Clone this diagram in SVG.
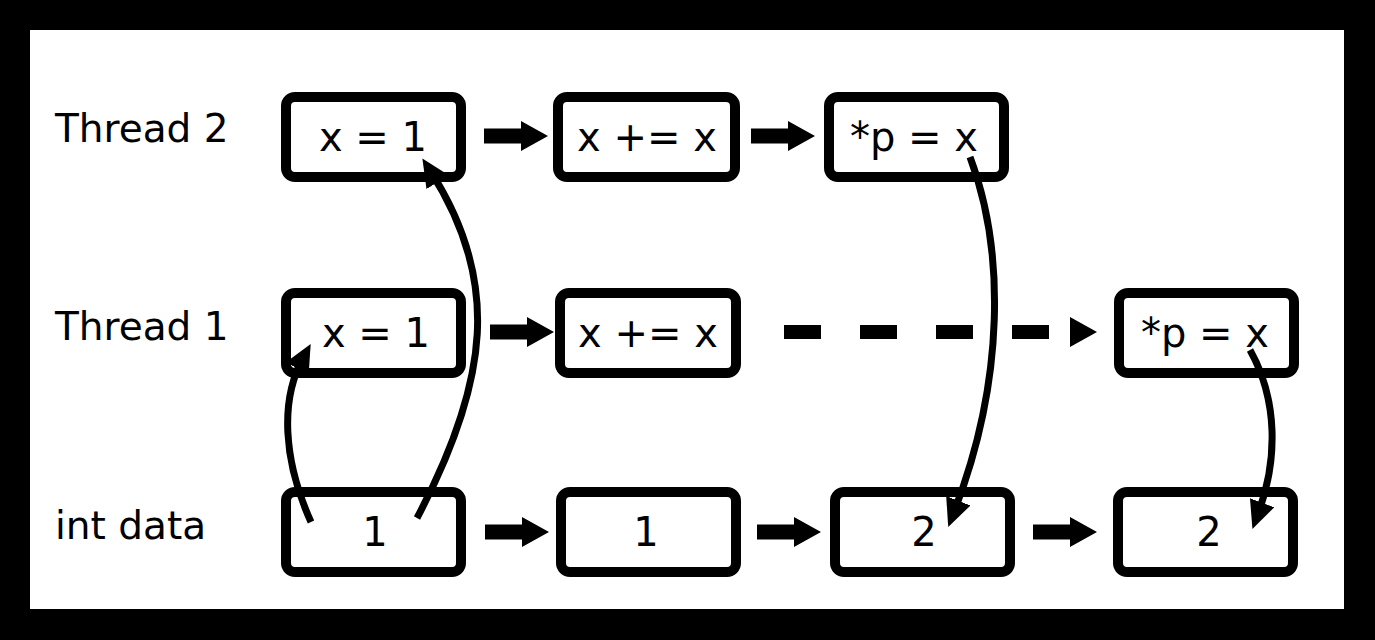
<svg xmlns="http://www.w3.org/2000/svg" xmlns:xlink="http://www.w3.org/1999/xlink" width="1375" height="640" viewBox="0 0 1375 640">
  <style>
    .box { fill: #fff; stroke: #000; stroke-width: 10; }
    .lbl { font-family: "DejaVu Sans", Verdana, sans-serif; font-size: 39px; fill: #000; }
    .txt { font-family: "DejaVu Sans", Verdana, sans-serif; font-size: 40px; fill: #000; text-anchor: middle; }
    .curve { fill: none; stroke: #000; stroke-width: 7; marker-end: url(#thinHead); }
    .dash { stroke: #000; stroke-width: 14; stroke-dasharray: 37 39; fill: none; }
  </style>
  <defs>
    <marker id="thinHead" viewBox="0 0 28 26" refX="12" refY="13" markerWidth="28" markerHeight="26" markerUnits="userSpaceOnUse" orient="auto">
      <path d="M0,0 L28,13 L0,26 Z" fill="#000"/>
    </marker>
    <path id="bigArrow" d="M0,-7.5 H37 V-15 L64,0 L37,15 V7.5 H0 Z" fill="#000"/>
  </defs>

  <rect x="0" y="0" width="1375" height="640" fill="#000"/>
  <rect x="30" y="30" width="1314" height="579" fill="#fff"/>

  <g id="labels">
    <text class="lbl" x="55" y="142">Thread 2</text>
    <text class="lbl" x="55" y="340">Thread 1</text>
    <text class="lbl" x="55" y="539">int data</text>
  </g>

  <g id="t2-n1"><rect class="box" x="286" y="97" width="175" height="80" rx="9"/><text class="txt" x="373" y="151">x = 1</text></g>
  <g id="t2-n2"><rect class="box" x="558" y="97" width="177" height="80" rx="9"/><text class="txt" x="647" y="151">x += x</text></g>
  <g id="t2-n3"><rect class="box" x="829" y="97" width="175" height="80" rx="9"/><text class="txt" x="914" y="151">*p = x</text></g>

  <g id="t1-n1"><rect class="box" x="286" y="293" width="175" height="80" rx="9"/><text class="txt" x="376" y="347">x = 1</text></g>
  <g id="t1-n2"><rect class="box" x="560" y="293" width="176" height="80" rx="9"/><text class="txt" x="648" y="347">x += x</text></g>
  <g id="t1-n3"><rect class="box" x="1119" y="293" width="175" height="80" rx="9"/><text class="txt" x="1205" y="347">*p = x</text></g>

  <g id="d-n1"><rect class="box" x="286" y="492" width="175" height="80" rx="9"/><text class="txt" x="375" y="546">1</text></g>
  <g id="d-n2"><rect class="box" x="561" y="492" width="175" height="80" rx="9"/><text class="txt" x="646" y="546">1</text></g>
  <g id="d-n3"><rect class="box" x="835" y="492" width="175" height="80" rx="9"/><text class="txt" x="924" y="546">2</text></g>
  <g id="d-n4"><rect class="box" x="1118" y="492" width="175" height="80" rx="9"/><text class="txt" x="1209" y="546">2</text></g>

  <g id="connectors">
    <use xlink:href="#bigArrow" x="484" y="136"/>
    <use xlink:href="#bigArrow" x="751" y="136"/>
    <use xlink:href="#bigArrow" x="490" y="332"/>
    <use xlink:href="#bigArrow" x="485" y="532"/>
    <use xlink:href="#bigArrow" x="757" y="532"/>
    <use xlink:href="#bigArrow" x="1033" y="532"/>

    <path class="dash" d="M784,332 H1049"/>
    <path d="M1070,317 L1097,332 L1070,347 Z" fill="#000"/>

    <path class="curve" d="M311,522 C283,460 280,400 303,358"/>
    <path class="curve" d="M417,518 C490,380 500,280 431,172"/>
    <path class="curve" d="M970,157 C1005,250 1005,380 954,512"/>
    <path class="curve" d="M1250,350 C1278,400 1278,460 1258,514"/>
  </g>
</svg>
